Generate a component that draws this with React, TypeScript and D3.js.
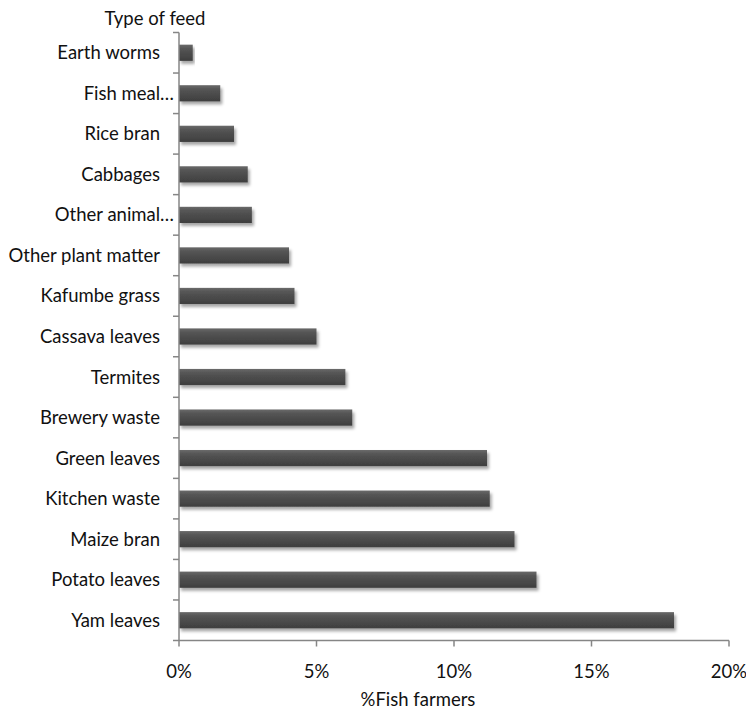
import React from "react";
import * as d3 from "d3";

const categories = [
  "Earth worms",
  "Fish meal…",
  "Rice bran",
  "Cabbages",
  "Other animal…",
  "Other plant matter",
  "Kafumbe grass",
  "Cassava leaves",
  "Termites",
  "Brewery waste",
  "Green leaves",
  "Kitchen waste",
  "Maize bran",
  "Potato leaves",
  "Yam leaves",
];
const values = [0.5, 1.5, 2.0, 2.5, 2.65, 4.0, 4.2, 5.0, 6.05, 6.3, 11.2, 11.3, 12.2, 13.0, 18.0];
const xTicks = [0, 5, 10, 15, 20];
const yTitle = "Type of feed";
const xTitle = "%Fish farmers";

const W = 746;
const H = 709;
const left = 179;
const right = 729;
const top = 32.5;
const bottom = 640.5;
const FONT = "Lato, 'Open Sans', sans-serif";
const FS = 18.5;
const AXIS = "#868686";

export default function App() {
  const x = d3.scaleLinear().domain([0, 20]).range([left, right]);
  const y = d3.scaleBand<string>().domain(categories).range([top, bottom]).paddingInner(0.6).paddingOuter(0.3);
  const boundaries = d3.range(categories.length + 1).map((i) => top + i * ((bottom - top) / categories.length));

  return (
    <svg width={W} height={H} style={{ position: "absolute", left: 0, top: 0, background: "#fff" }}>
      <defs>
        <linearGradient id="barGrad" x1="0" y1="0" x2="0" y2="1">
          <stop offset="0" stopColor="#6a6a6a" />
          <stop offset="0.25" stopColor="#555555" />
          <stop offset="1" stopColor="#3e3e3e" />
        </linearGradient>
        <filter id="shadow" x="-5%" y="-30%" width="115%" height="180%">
          <feDropShadow dx="2" dy="3" stdDeviation="1.8" floodColor="#000" floodOpacity="0.35" />
        </filter>
      </defs>

      {/* bars */}
      {categories.map((c, i) => (
        <rect
          key={c}
          x={x(0)}
          y={y(c)!}
          width={x(values[i]) - x(0)}
          height={y.bandwidth()}
          fill="url(#barGrad)"
          filter="url(#shadow)"
        />
      ))}

      {/* y axis */}
      <line x1={left} x2={left} y1={top} y2={bottom} stroke={AXIS} strokeWidth={1.5} />
      {boundaries.map((b, i) => (
        <line key={i} x1={left - 6} x2={left} y1={b} y2={b} stroke={AXIS} strokeWidth={1.5} />
      ))}
      {categories.map((c) => (
        <text
          key={c}
          x={c.endsWith("…") ? left - 5 : left - 19}
          y={y(c)! + y.bandwidth() / 2}
          dy="0.35em"
          textAnchor="end"
          fontFamily={FONT}
          fontSize={FS}
          fill="#111"
        >
          {c}
        </text>
      ))}

      {/* x axis */}
      <line x1={left} x2={right} y1={bottom} y2={bottom} stroke={AXIS} strokeWidth={1.5} />
      {xTicks.map((t) => (
        <g key={t}>
          <line x1={x(t)} x2={x(t)} y1={bottom} y2={bottom + 6} stroke={AXIS} strokeWidth={1.5} />
          <text x={x(t)} y={678} textAnchor="middle" fontFamily={FONT} fontSize={FS} fill="#111">
            {t + "%"}
          </text>
        </g>
      ))}

      <text x={418} y={706} textAnchor="middle" fontFamily={FONT} fontSize={FS} fill="#111">
        {xTitle}
      </text>
      <text x={155} y={25} textAnchor="middle" fontFamily={FONT} fontSize={FS} fill="#111">
        {yTitle}
      </text>
    </svg>
  );
}
